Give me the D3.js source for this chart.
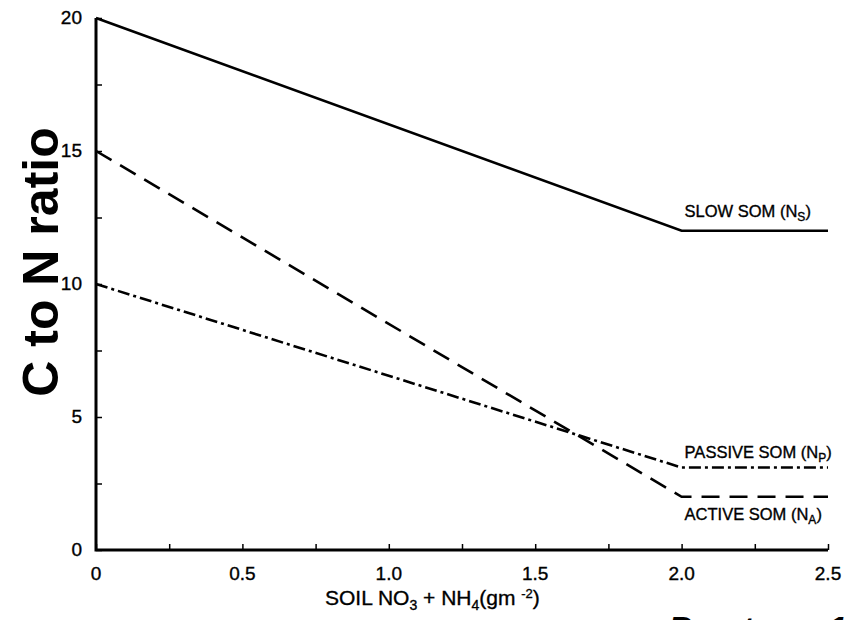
<!DOCTYPE html>
<html>
<head>
<meta charset="utf-8">
<script src="https://cdn.jsdelivr.net/npm/d3@7"></script>
<style>
  body { margin: 0; background: #fff; }
  text { font-family: "Liberation Sans", Arial, sans-serif; fill: #000; }
  .xlab, .ylab, .slab, .xtitle { stroke: #000; stroke-width: 0.35px; }
</style>
</head>
<body>
<div id="app"></div>
<script>
// 数据
const soilN = [0, 2.0, 2.5];
const slowSOM = [20, 12, 12];
const activeSOM = [15, 2.0, 2.0];
const passiveSOM = [10, 3.1, 3.1];
const xTicks = [0, 0.5, 1.0, 1.5, 2.0, 2.5];
const xTickLabels = ['0', '0.5', '1.0', '1.5', '2.0', '2.5'];
const yTicks = [0, 5, 10, 15, 20];

const series = [
  { name: 'SLOW SOM (N', sub: 'S', values: slowSOM, dash: null, dy: -14 },
  { name: 'PASSIVE SOM (N', sub: 'P', values: passiveSOM, dash: '12,4,3,4', dy: -10 },
  { name: 'ACTIVE SOM (N', sub: 'A', values: activeSOM, dash: '18,10', dy: 23 }
];

const width = 854, height = 620;
const margin = { left: 96, top: 18, right: 26, bottom: 70 };

const svg = d3.select('#app')
  .append('svg')
    .attr('width', width)
    .attr('height', height);

const x = d3.scaleLinear().domain([0, 2.5]).range([margin.left, width - margin.right]);
const y = d3.scaleLinear().domain([0, 20]).range([height - margin.bottom, margin.top]);

// 坐标轴 (刻度朝内)
const xAxis = d3.axisBottom(x)
  .tickValues(d3.range(0, 2.51, 0.25))
  .tickSize(-6)
  .tickFormat('');
const yAxis = d3.axisLeft(y)
  .tickValues(d3.range(0, 20.1, 2.5))
  .tickSize(-6)
  .tickFormat('');

const gx = svg.append('g')
  .attr('transform', `translate(0, ${y(0)})`)
  .call(xAxis);
const gy = svg.append('g')
  .attr('transform', `translate(${x(0)}, 0)`)
  .call(yAxis);

[gx, gy].forEach(g => {
  g.select('.domain').remove();
  g.selectAll('.tick line').attr('stroke', '#000').attr('stroke-width', 1.5);
});
svg.append('path')
  .attr('d', `M${x(0)},${y(20)}V${y(0)}H${x(2.5)}`)
  .attr('fill', 'none')
  .attr('stroke', '#000')
  .attr('stroke-width', 3);

// 刻度标签
svg.selectAll('.xlab')
  .data(xTicks)
  .join('text')
    .attr('class', 'xlab')
    .attr('x', d => x(d))
    .attr('y', y(0) + 30)
    .attr('text-anchor', 'middle')
    .style('font-size', '19px')
    .text((d, i) => xTickLabels[i]);

svg.selectAll('.ylab')
  .data(yTicks)
  .join('text')
    .attr('class', 'ylab')
    .attr('x', x(0) - 14)
    .attr('y', d => y(d) + 6)
    .attr('text-anchor', 'end')
    .style('font-size', '19px')
    .text(d => d);

// 折线
const line = d3.line()
  .x((d, i) => x(soilN[i]))
  .y(d => y(d));

svg.selectAll('.series')
  .data(series)
  .join('path')
    .attr('class', 'series')
    .attr('d', d => line(d.values))
    .attr('fill', 'none')
    .attr('stroke', '#000')
    .attr('stroke-width', 2.6)
    .attr('stroke-dasharray', d => d.dash);

// 系列标签
const labels = svg.selectAll('.slab')
  .data(series)
  .join('text')
    .attr('class', 'slab')
    .attr('x', x(2.0) + 3)
    .attr('y', d => y(d.values[2]) + d.dy)
    .style('font-size', '16.5px');
labels.append('tspan').text(d => d.name);
labels.append('tspan')
  .attr('dy', 4)
  .style('font-size', '12px')
  .text(d => d.sub);
labels.append('tspan')
  .attr('dy', -4)
  .text(')');

// 轴标题
svg.append('text')
  .attr('transform', 'translate(58, 262) rotate(-90)')
  .attr('text-anchor', 'middle')
  .style('font-size', '50px')
  .style('font-weight', 'bold')
  .text('C to N ratio');

const xt = svg.append('text')
  .attr('class', 'xtitle')
  .attr('x', 325)
  .attr('y', 605)
  .style('font-size', '21px');
xt.append('tspan').text('SOIL NO');
xt.append('tspan').attr('dy', 5).style('font-size', '14px').text('3');
xt.append('tspan').attr('dy', -5).text(' + NH');
xt.append('tspan').attr('dy', 5).style('font-size', '14px').text('4');
xt.append('tspan').attr('dy', -5).text('(gm ');
xt.append('tspan').attr('dy', -7).style('font-size', '13px').text('-2');
xt.append('tspan').attr('dy', 7).text(')');

// 底部被截断的文字
svg.append('text')
  .attr('x', 668)
  .attr('y', 643)
  .style('font-size', '36px')
  .style('font-weight', 'bold')
  .style('font-style', 'italic')
  .style('letter-spacing', '5px')
  .text('Parton 1993');
</script>
</body>
</html>
